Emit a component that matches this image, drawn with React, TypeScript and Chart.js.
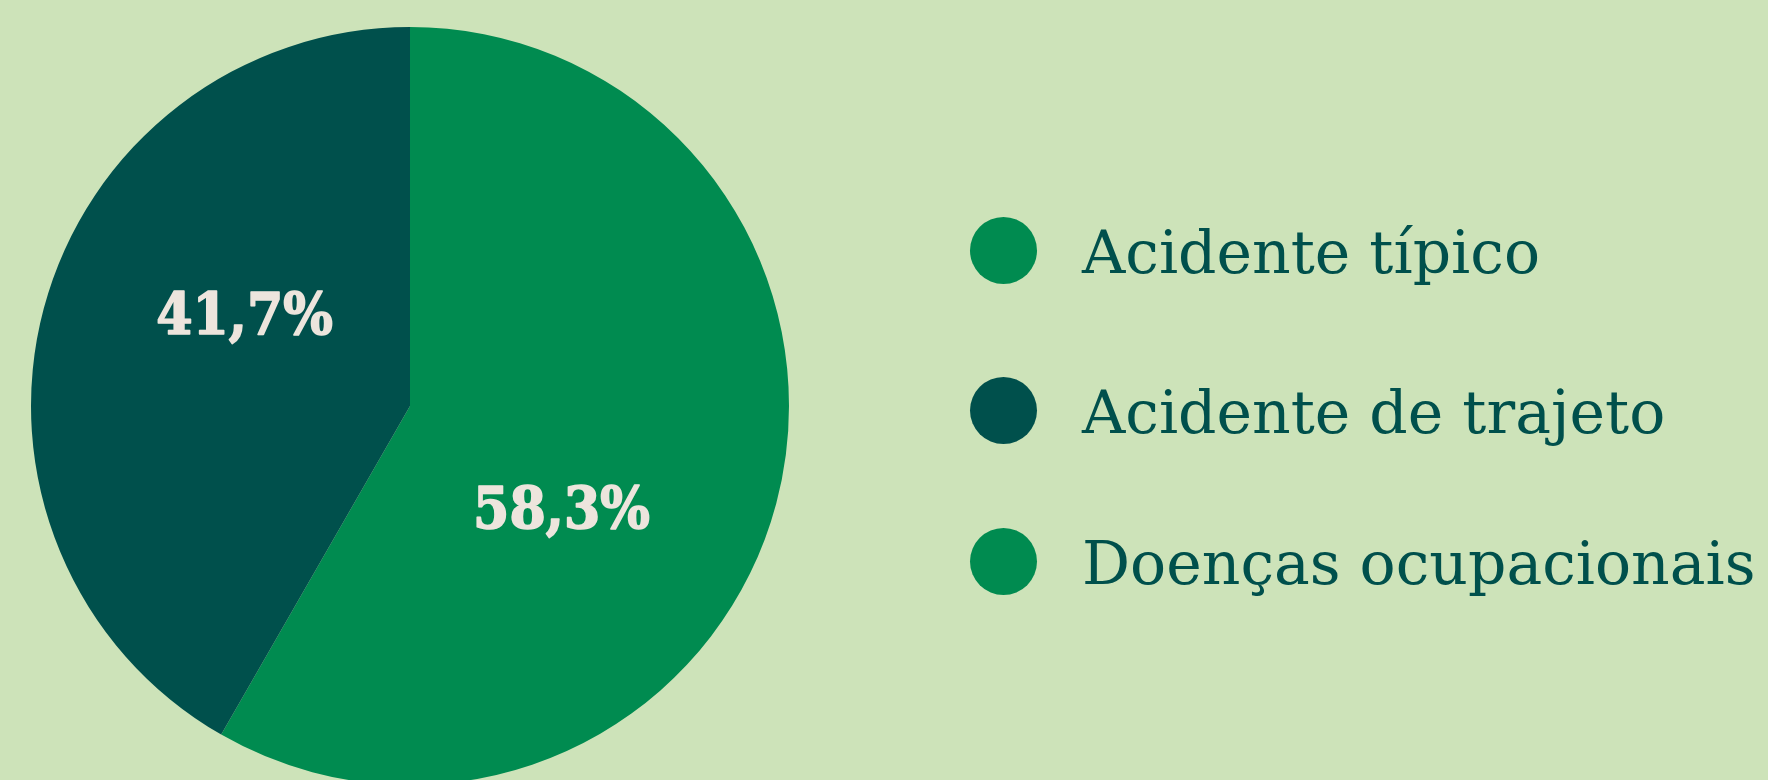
import React, { useEffect, useRef } from "react";
import { Chart, registerables } from "chart.js";

Chart.register(...registerables);

const categories = ["Acidente típico", "Acidente de trajeto", "Doenças ocupacionais"];
const shares = [58.3, 41.7, 0];
const valueLabels = ["58,3%", "41,7%", ""];
const sliceColors = ["#008b50", "#00504c", "#008b50"];

const BG = "#cde3b9";
const TEXT = "#00504c";
const LABEL = "#ede5dd";
const LABEL_FONT_PX = 58;

// layout (pixel) constants
const LEGEND_ROW_CENTERS = [250, 410, 561];
const LABEL_NUDGE = { x: -7, y: 4 };

const sliceLabelPlugin = {
  id: "sliceLabels",
  afterDatasetsDraw(chart: any) {
    const ctx = chart.ctx;
    const meta = chart.getDatasetMeta(0);
    ctx.save();
    ctx.fillStyle = LABEL;
    ctx.strokeStyle = LABEL;
    ctx.lineWidth = 1.6;
    ctx.lineJoin = "round";
    ctx.font = `bold ${LABEL_FONT_PX}px "DejaVu Serif Condensed", "DejaVu Serif", serif`;
    ctx.textAlign = "center";
    ctx.textBaseline = "alphabetic";
    meta.data.forEach((arc: any, i: number) => {
      if (!shares[i]) return;
      const { x, y, startAngle, endAngle, outerRadius } = arc.getProps(
        ["x", "y", "startAngle", "endAngle", "outerRadius"],
        true
      );
      const a = (startAngle + endAngle) / 2 + (16.5 * Math.PI) / 180;
      const r = outerRadius * 0.49;
      const cx = x + r * Math.cos(a) + LABEL_NUDGE.x;
      const cy = y + r * Math.sin(a) + LABEL_NUDGE.y;
      const by = cy + LABEL_FONT_PX * 0.3645;
      ctx.fillText(valueLabels[i], cx, by);
      ctx.strokeText(valueLabels[i], cx, by);
    });
    ctx.restore();
  },
};

export default function App() {
  const canvasRef = useRef<HTMLCanvasElement | null>(null);

  useEffect(() => {
    if (!canvasRef.current) return;
    const chart = new Chart(canvasRef.current, {
      type: "pie",
      data: {
        labels: categories,
        datasets: [
          {
            data: shares,
            backgroundColor: sliceColors,
            borderWidth: 0,
            hoverOffset: 0,
            offset: 0,
          },
        ],
      },
      options: {
        responsive: false,
        animation: false,
        devicePixelRatio: 1,
        layout: { padding: { left: 31, right: 31, top: 0, bottom: 0 } },
        plugins: {
          legend: { display: false },
          tooltip: { enabled: false },
        },
      },
      plugins: [sliceLabelPlugin],
    });
    return () => chart.destroy();
  }, []);

  return (
    <div
      style={{
        position: "fixed",
        left: 0,
        top: 0,
        width: 1768,
        height: 780,
        overflow: "hidden",
        background: BG,
      }}
    >
      <canvas
        ref={canvasRef}
        width={820}
        height={812}
        style={{ position: "absolute", left: 0, top: 0, width: 820, height: 812 }}
      />
      {categories.map((c, i) => (
        <div
          key={c}
          style={{
            position: "absolute",
            left: 970,
            top: LEGEND_ROW_CENTERS[i] - 34,
            height: 68,
            display: "flex",
            alignItems: "center",
            whiteSpace: "nowrap",
          }}
        >
          <span
            style={{
              display: "inline-block",
              width: 67,
              height: 67,
              borderRadius: "50%",
              background: sliceColors[i],
            }}
          />
          <span
            style={{
              marginLeft: 45,
              fontFamily: '"DejaVu Serif", serif',
              fontSize: 60,
              lineHeight: "60px",
              color: TEXT,
              position: "relative",
              top: 2,
            }}
          >
            {c}
          </span>
        </div>
      ))}
    </div>
  );
}
